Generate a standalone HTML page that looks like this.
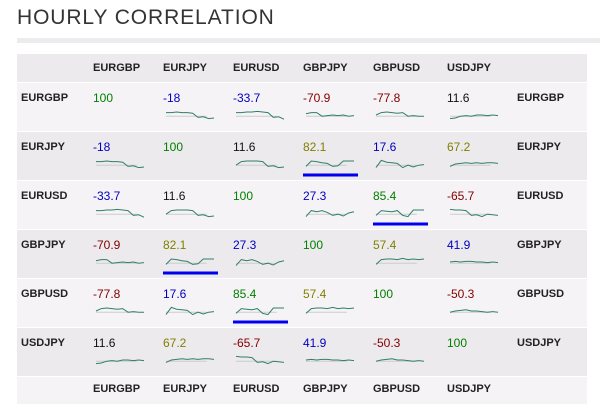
<!DOCTYPE html>
<html><head><meta charset="utf-8"><style>
body{margin:0;width:602px;height:419px;background:#fff;font-family:"Liberation Sans",sans-serif;position:relative;overflow:hidden}
.t{position:absolute;white-space:nowrap}
</style></head><body>
<div class="t" style="left:17px;top:6px;font-size:21px;color:#333;letter-spacing:0.9px">HOURLY CORRELATION</div>
<div style="position:absolute;left:17px;top:38px;width:583px;height:5px;background:#ecebee"></div>
<div id="tbl" style="position:absolute;left:0;top:0;width:602px;height:419px"></div>
<script>
const pairs=["EURGBP","EURJPY","EURUSD","GBPJPY","GBPUSD","USDJPY"];
const corr=[
[100,-18,-33.7,-70.9,-77.8,11.6],
[-18,100,11.6,82.1,17.6,67.2],
[-33.7,11.6,100,27.3,85.4,-65.7],
[-70.9,82.1,27.3,100,57.4,41.9],
[-77.8,17.6,85.4,57.4,100,-50.3],
[11.6,67.2,-65.7,41.9,-50.3,100]];
const colors=[
["g","b","b","r","r","k"],
["b","g","k","o","b","o"],
["b","k","g","b","g","r"],
["r","o","b","g","o","b"],
["r","b","g","o","g","r"],
["k","o","r","b","r","g"]];
const colMap={g:"#008000",b:"#0000c0",r:"#800000",k:"#111",o:"#808000"};
const sparks={
"0-1":[0.7,0.7,0.75,0.7,0.7,0.65,0.3,0.35,0.2,0.25],
"0-2":[0.7,0.7,0.75,0.75,0.8,0.75,0.7,0.3,0.35,0.15],
"0-3":[0.6,0.7,0.7,0.4,0.45,0.5,0.45,0.5,0.4,0.45],
"0-4":[0.5,0.7,0.75,0.7,0.65,0.7,0.4,0.45,0.4,0.4],
"0-5":[0.2,0.25,0.4,0.45,0.4,0.5,0.5,0.45,0.5,0.45],
"1-2":[0.4,0.7,0.75,0.75,0.75,0.7,0.3,0.35,0.2,0.25],
"1-3":[0.3,0.75,0.7,0.6,0.55,0.3,0.35,0.75,0.75,0.75],
"1-4":[0.2,0.8,0.65,0.6,0.55,0.2,0.4,0.25,0.4,0.45],
"1-5":[0.3,0.5,0.55,0.6,0.55,0.6,0.55,0.6,0.6,0.55],
"2-3":[0.2,0.7,0.6,0.7,0.55,0.3,0.4,0.25,0.5,0.6],
"2-4":[0.3,0.7,0.65,0.6,0.7,0.3,0.2,0.75,0.75,0.75],
"2-5":[0.8,0.75,0.75,0.7,0.3,0.35,0.2,0.4,0.35,0.3],
"3-4":[0.3,0.7,0.75,0.75,0.7,0.8,0.7,0.75,0.7,0.75],
"3-5":[0.5,0.55,0.5,0.55,0.55,0.5,0.5,0.45,0.5,0.45],
"4-5":[0.4,0.5,0.55,0.6,0.5,0.5,0.45,0.4,0.45,0.4]};
const underlined=[[1,3],[2,4],[3,1],[4,2]];
const tbl=document.getElementById('tbl');
const L=17,R=587,colX=[93,163,233,303,373,447],rightX=517;
const rowTop=[82,131,180,229,278,327],rowH=49;
function colX_(j){return colX[j];}
function rowY(i){return rowTop[i];}
function bg(top,h,c){const d=document.createElement('div');


d.style.cssText=`position:absolute;left:${L}px;top:${top}px;width:${R-L}px;height:${h-1}px;background:${c}`;tbl.appendChild(d);}
bg(54,29,"#edeaed");
for(let i=0;i<6;i++)bg(rowY(i)+1,rowH,i%2?"#edeaed":"#f6f3f6");
bg(377,28,"#f6f3f6");
function txt(x,y,s,name,st){const d=document.createElement('div');d.className='t';


d.style.cssText=`left:${x}px;top:${y}px;`+st;d.textContent=s;tbl.appendChild(d);}
const hb="font-size:11px;font-weight:bold;color:#222;";
pairs.forEach((p,j)=>{txt(colX_(j),62,p,'column-header',hb);txt(colX_(j),383,p,'column-footer',hb);});
const NS="http://www.w3.org/2000/svg";
const svg=document.createElementNS(NS,'svg');


svg.setAttribute('width','602');svg.setAttribute('height','419');
svg.style.cssText='position:absolute;left:0;top:0';
for(let i=0;i<6;i++){
 txt(21,rowY(i)+10,pairs[i],'row-label',hb);
 txt(rightX,rowY(i)+10,pairs[i],'row-label-right',hb);
 for(let j=0;j<6;j++){
  const v=corr[i][j];
  txt(colX_(j),rowY(i)+9,String(v),'value-'+pairs[i]+'-'+pairs[j],`font-size:12px;color:${colMap[colors[i][j]]}`);
  if(i===j)continue;
  const key=i<j?i+'-'+j:j+'-'+i;const s=sparks[key];
  const x0=colX_(j)+3,y0=rowY(i)+27,w=48,h=12;
  const base=document.createElementNS(NS,'line');
  
  
  base.setAttribute('x1',x0);base.setAttribute('x2',x0+w*0.85);base.setAttribute('y1',y0+h*0.6);base.setAttribute('y2',y0+h*0.6);
  base.setAttribute('stroke','#ccc');svg.appendChild(base);
  const pts=s.map((q,k)=>(x0+k*w/(s.length-1)).toFixed(1)+','+(y0+h*(1-q)).toFixed(1)).join(' ');
  const pl=document.createElementNS(NS,'polyline');
  
  
  pl.setAttribute('points',pts);pl.setAttribute('fill','none');pl.setAttribute('stroke','#2e7f6a');pl.setAttribute('stroke-width','1');
  svg.appendChild(pl);
 }
}
underlined.forEach(([i,j])=>{const l=document.createElementNS(NS,'line');
 
 
 l.setAttribute('x1',colX_(j));l.setAttribute('x2',colX_(j)+55);
 l.setAttribute('y1',rowY(i)+44);l.setAttribute('y2',rowY(i)+44);
 l.setAttribute('stroke','#0000ee');l.setAttribute('stroke-width','3');svg.appendChild(l);});
tbl.appendChild(svg);
</script>
</body></html>
